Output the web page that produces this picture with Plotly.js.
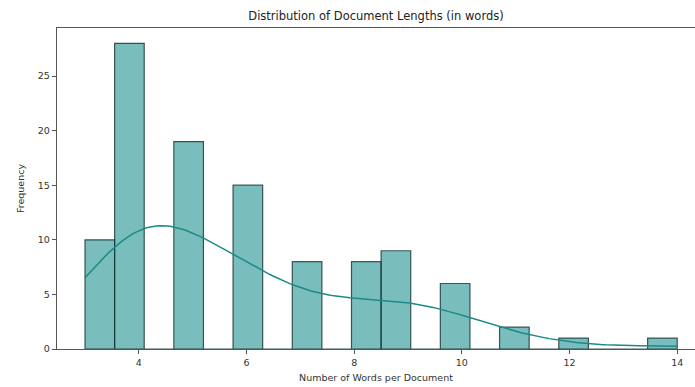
<!DOCTYPE html>
<html>
<head>
<meta charset="utf-8">
<script src="https://cdn.plot.ly/plotly-3.0.1.min.js"></script>
<style>html,body{margin:0;padding:0;background:#fff;}#chart{width:695px;height:387px;}</style>
</head>
<body>
<div id="chart"></div>
<script>
// Word counts per document and how many documents have each count
const wordCounts = [3, 4, 5, 6, 7, 8, 9, 10, 11, 12, 14];
const docCounts  = [10, 28, 19, 15, 8, 8, 9, 6, 2, 1, 1];
const xTicks = [4, 6, 8, 10, 12, 14];
const yTicks = [0, 5, 10, 15, 20, 25];

const binStart = 3, binEnd = 14, nBins = 20;
const binWidth = (binEnd - binStart) / nBins;

// Histogram counts
const binCounts = new Array(nBins).fill(0);
wordCounts.forEach((v, i) => {
  let b = Math.floor((v - binStart) / binWidth + 1e-9);
  if (b >= nBins) b = nBins - 1;
  binCounts[b] += docCounts[i];
});
const binCenters = binCounts.map((_, i) => binStart + (i + 0.5) * binWidth);

// Gaussian KDE (Scott bandwidth), scaled to counts
const n = docCounts.reduce((a, b) => a + b, 0);
const mean = wordCounts.reduce((s, v, i) => s + v * docCounts[i], 0) / n;
const variance = wordCounts.reduce((s, v, i) => s + docCounts[i] * (v - mean) ** 2, 0) / (n - 1);
const bw = Math.sqrt(variance) * Math.pow(n, -1 / 5);
const kx = [], ky = [];
const grid = 200;
for (let g = 0; g < grid; g++) {
  const x = binStart + (binEnd - binStart) * g / (grid - 1);
  let d = 0;
  wordCounts.forEach((v, i) => {
    const z = (x - v) / bw;
    d += docCounts[i] * Math.exp(-0.5 * z * z) / (bw * Math.sqrt(2 * Math.PI));
  });
  kx.push(x);
  ky.push(d * binWidth);
}

const traces = [
  {
    type: 'bar', x: binCenters, y: binCounts, width: binWidth,
    marker: { color: 'rgba(0,128,128,0.52)', line: { color: 'rgba(20,50,50,0.8)', width: 1.2 } },
    hoverinfo: 'x+y'
  },
  {
    type: 'scatter', mode: 'lines', x: kx, y: ky,
    line: { color: '#1a8a8a', width: 1.5 }
  }
];

const layout = {
  width: 695, height: 387,
  margin: { l: 57, r: 0, t: 28, b: 38 },
  paper_bgcolor: '#fff', plot_bgcolor: '#fff',
  showlegend: false,
  font: { family: 'DejaVu Sans, sans-serif', color: '#333' },
  title: { text: 'Distribution of Document Lengths (in words)', font: { size: 11.5, color: '#222' },
           x: 0.5, xref: 'paper', y: 1 - 16 / 387, yref: 'container', yanchor: 'middle' },
  xaxis: {
    range: [2.48, 14.33], tickvals: xTicks, ticktext: xTicks.map(String),
    showgrid: false, zeroline: false, showline: true, mirror: true,
    linecolor: '#555', linewidth: 1.2,
    ticks: 'outside', ticklen: 4, tickcolor: '#555', tickfont: { size: 9.5, color: '#333' },
    title: { text: 'Number of Words per Document', font: { size: 9.5, color: '#333' }, standoff: 7 }
  },
  yaxis: {
    range: [0, 29.4], tickvals: yTicks, ticktext: yTicks.map(String),
    showgrid: false, zeroline: false, showline: true,
    linecolor: '#555', linewidth: 1.2,
    ticks: 'outside', ticklen: 4, tickcolor: '#555', tickfont: { size: 9.5, color: '#333' },
    title: { text: 'Frequency', font: { size: 9.5, color: '#333' }, standoff: 11 }
  },
  bargap: 0
};

Plotly.newPlot('chart', traces, layout, { displayModeBar: false, staticPlot: true });
</script>
</body>
</html>
